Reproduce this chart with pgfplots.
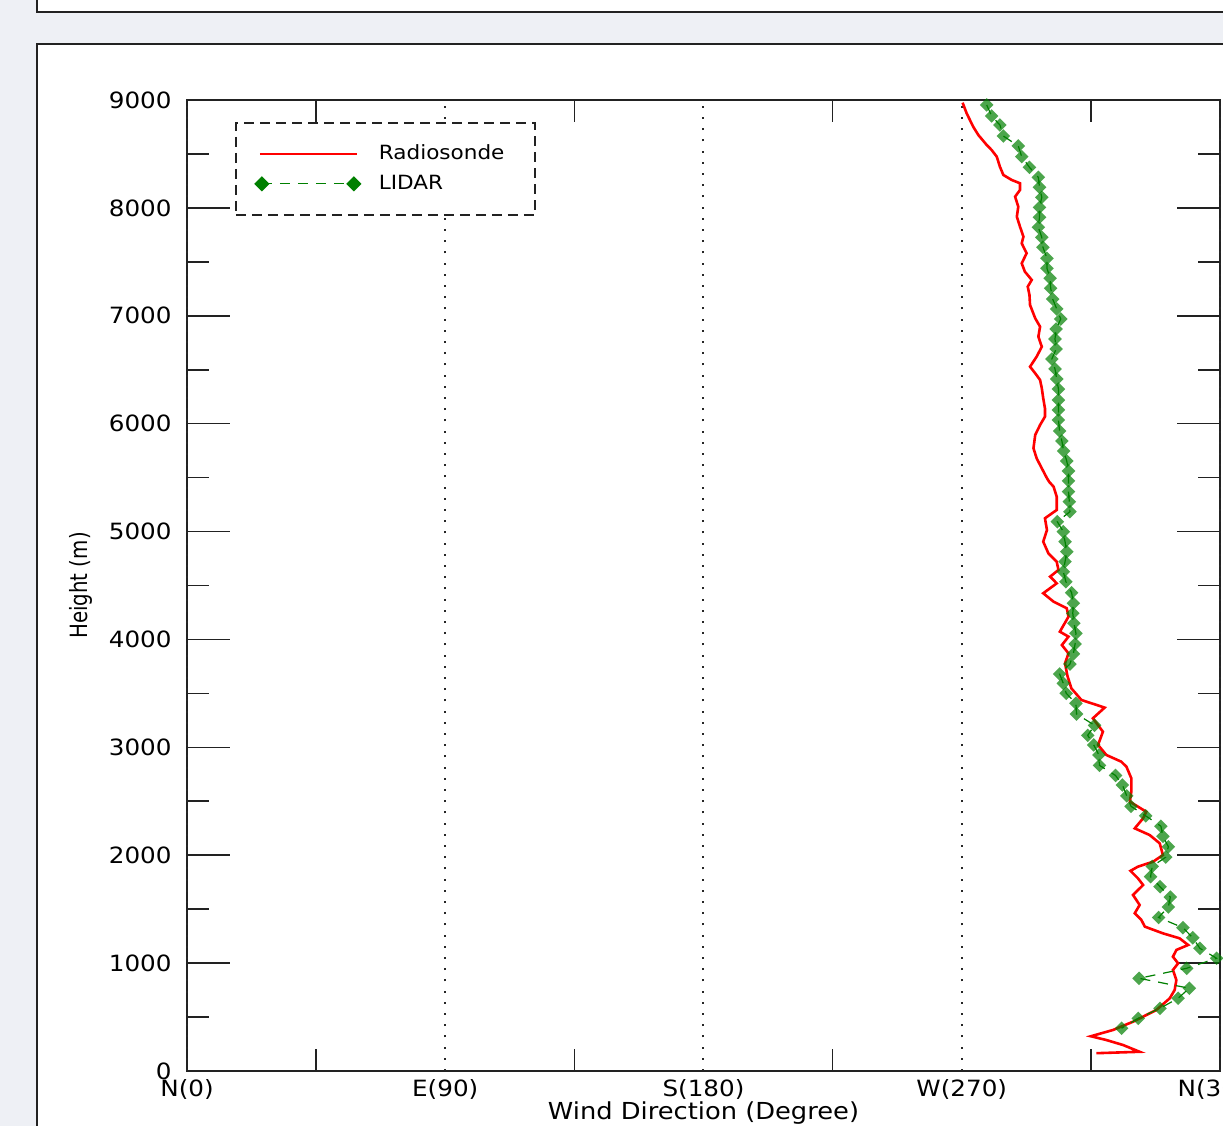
\documentclass[border=0pt]{standalone}
\usepackage{fontspec}
\setmainfont{DejaVu Sans}[FakeStretch=1.1]
\newfontfamily\ylabfont{DejaVu Sans}
\usepackage{graphicx}
\usepackage{pgfplots}
\pgfplotsset{compat=1.18}
\definecolor{bggray}{HTML}{EEF0F5}
\definecolor{frame}{HTML}{222222}
\definecolor{lidargreen}{HTML}{008000}
\pgfplotsset{
  redlegend/.style={legend image code/.code={\path[draw=none,fill=none] (-12pt,-7.5pt) rectangle (57.5pt,7.5pt); \draw[##1] (0pt,0pt) -- (48.5pt,0pt);}},
  greenlegend/.style={legend image code/.code={\path[draw=none,fill=none] (-12pt,-7.5pt) rectangle (57.5pt,7.5pt); \draw[##1, every mark/.append style={fill opacity=1}, mark size=2.7pt] plot coordinates {(1pt,0pt) (47pt,0pt)};}},
}
\begin{document}
\begin{tikzpicture}
\useasboundingbox (0,0) rectangle (611.5pt,563pt);
\clip (0,0) rectangle (611.5pt,563pt);
\fill[bggray] (0,0) rectangle (611.5pt,563pt);
\filldraw[fill=white, draw=frame, line width=1pt] (18.5pt,557pt) rectangle (640pt,600pt);
\filldraw[fill=white, draw=frame, line width=1pt] (18.5pt,-20pt) rectangle (640pt,541pt);
\begin{axis}[
  at={(93.5pt,27.5pt)}, anchor=south west,
  scale only axis, width=516.5pt, height=485.5pt,
  xmin=0, xmax=360, ymin=0, ymax=9000,
  axis line style={frame, line width=1pt},
  tick style={frame, line width=0.8pt},
  tick align=inside,
  major tick length=11pt,
  xtick={45,135,225,315}, xticklabels={},
  extra x ticks={0,90,180,270,360},
  extra x tick labels={N(0),E(90),S(180),W(270),N(360)},
  extra x tick style={major tick length=0pt, grid=major},
  major grid style={black!85, line width=1pt, dash pattern=on 1pt off 4.6pt},
  ytick={500,1500,2500,3500,4500,5500,6500,7500,8500}, yticklabels={},
  extra y ticks={0,1000,2000,3000,4000,5000,6000,7000,8000,9000},
  extra y tick labels={0,1000,2000,3000,4000,5000,6000,7000,8000,9000},
  extra y tick style={major tick length=21.5pt},
  xticklabel style={font=\fontsize{11.2pt}{13pt}\selectfont, inner sep=0pt, anchor=north, yshift=-4pt},
  yticklabel style={font=\fontsize{11.2pt}{13pt}\selectfont, inner sep=0pt, anchor=east, xshift=-7.5pt},
  xlabel={Wind Direction (Degree)},
  xlabel style={font=\fontsize{11.7pt}{14pt}\selectfont, inner sep=0pt, at={(axis description cs:0.5,-0.0432)}, anchor=center},
  ylabel={\scalebox{1}[1.2]{Height (m)}},
  ylabel style={font=\ylabfont\fontsize{9.9pt}{12pt}\selectfont, inner sep=0pt, at={(axis description cs:-0.1025,0.5)}, anchor=center},
  legend style={at={(rel axis cs:0.0465,0.9773)}, anchor=north west, draw=frame, line width=0.8pt, dash pattern=on 5pt off 3pt, inner xsep=0pt, inner ysep=8pt, row sep=0pt, column sep=0pt, font=\fontsize{9.8pt}{11pt}\selectfont, fill=white},
  legend cell align=left,
]
\addplot[color=red, solid, line width=1.3pt, redlegend]
coordinates {
(270.3,8975) (271.7,8877) (274.0,8752) (275.8,8675) (278.7,8583) (280.4,8537) (282.2,8475) (283.3,8382)
(284.5,8305) (287.4,8259) (290.3,8228) (290.3,8166) (288.6,8104) (289.7,8011) (289.2,7918) (290.3,7826)
(291.5,7733) (290.9,7672) (292.6,7579) (290.9,7486) (292.0,7409) (294.4,7332) (293.0,7270)
(293.6,7193) (293.8,7100) (295.6,6977) (297.3,6899) (296.7,6806) (297.9,6713) (296.1,6621) (293.8,6528)
(295.6,6467) (297.3,6405) (297.9,6328) (298.4,6235) (299.0,6142) (299.0,6065) (297.3,5988) (295.6,5895)
(295.0,5772) (296.1,5679) (297.9,5586) (299.7,5494) (300.5,5460) (302.0,5416)
(303.1,5323) (303.1,5200) (299.0,5123) (299.7,5014) (298.4,4906) (300.2,4798) (303.1,4721) (303.7,4644)
(300.8,4582) (303.1,4520) (298.4,4428) (302.0,4350) (306.6,4289) (307.2,4211) (304.2,4072) (307.2,4026)
(304.9,3948) (307.2,3871) (306.0,3779) (306.8,3665)
(308.2,3547) (311.7,3439) (319.8,3368) (315.7,3269) (319.2,3145) (317.5,3022) (320.4,2929) (325.6,2867)
(327.4,2820) (329.1,2713) (329.1,2589) (328.6,2496) (334.3,2403) (333.2,2342) (330.3,2249) (335.5,2187)
(339.0,2110) (340.1,2002) (336.7,1940) (331.4,1894) (328.8,1855)
(331.4,1786) (333.2,1724) (329.7,1631) (332.0,1539) (330.3,1462) (332.6,1400) (333.8,1338) (340.1,1276)
(345.9,1230) (348.9,1168) (344.8,1122) (343.6,1059) (345.4,998) (343.6,936) (344.8,843) (344.2,751)
(342.5,674) (337.8,565) (329.7,457) (322.7,380) (315.0,322) (320.4,287) (326.2,241) (332.0,178) (316.9,165)
};
\addlegendentry{\makebox[76pt][l]{Radiosonde}}
\addplot[color=lidargreen, line width=0.6pt, dash pattern=on 5pt off 4pt,
  mark=square*, mark size=2.4pt,
  mark options={solid, rotate=45, fill=lidargreen, fill opacity=0.7, draw opacity=0},
  greenlegend]
coordinates {
(278.7,8954) (280.4,8852) (283.3,8768) (284.5,8666) (289.7,8574) (290.9,8475) (293.6,8376) (296.7,8283)
(297.1,8191) (297.9,8098) (297.1,8005) (297.1,7913) (296.7,7820) (297.9,7727) (298.3,7635) (299.7,7533)
(299.7,7440) (300.8,7347) (301.0,7255) (301.7,7155) (303.1,7063) (304.5,6970) (302.9,6877) (302.5,6785)
(302.9,6692) (301.4,6599) (302.5,6507) (303.1,6414) (303.7,6321) (303.7,6219) (303.7,6127) (303.7,6034)
(304.1,5932) (304.9,5839) (305.5,5747) (306.6,5654) (307.2,5561) (307.2,5469) (307.2,5370) (307.5,5277)
(307.7,5184) (303.3,5091) (305.4,4999) (306.0,4906) (306.6,4813) (306.0,4721) (305.4,4628) (306.3,4535)
(308.3,4433) (308.9,4335) (308.7,4242) (309.1,4150) (309.8,4057) (309.5,3958) (308.9,3866) (307.7,3772)
(304.1,3680) (305.4,3593) (306.4,3501) (309.8,3408) (310.0,3309) (316.3,3204) (313.9,3111) (316.0,3022)
(317.8,2929) (318.0,2833) (323.6,2739) (326.0,2651) (327.5,2550) (329.0,2453) (334.1,2365) (339.4,2269)
(340.1,2175) (342.0,2079) (341.1,1982) (336.4,1897) (335.8,1801) (339.1,1708) (342.7,1612) (342.0,1520)
(338.6,1423) (347.1,1328) (350.5,1235) (353.0,1137) (358.8,1045) (348.4,952) (331.8,859) (349.3,767)
(345.4,674) (339.1,581) (331.5,488) (325.7,396)
};
\addlegendentry{\makebox[76pt][l]{LIDAR}}
\end{axis}
\end{tikzpicture}
\end{document}
